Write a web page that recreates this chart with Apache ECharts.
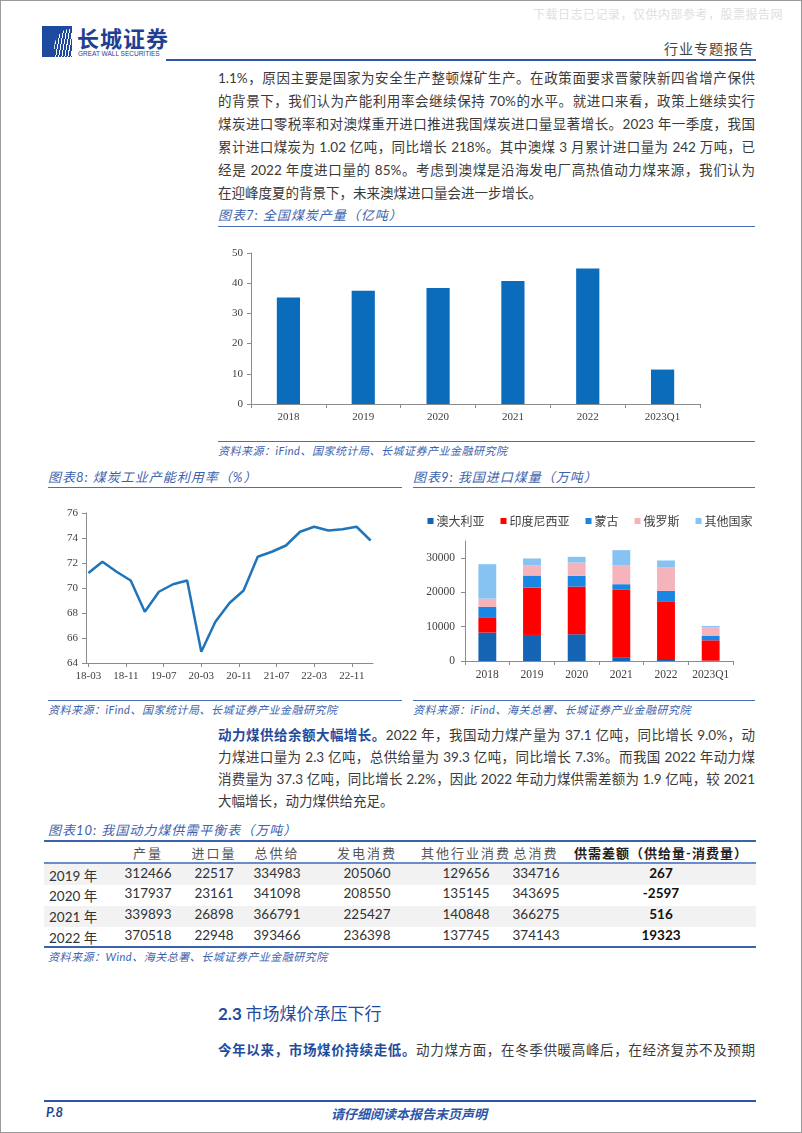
<!DOCTYPE html>
<html>
<head>
<meta charset="utf-8">
<script src="https://cdn.jsdelivr.net/npm/echarts/dist/echarts.min.js"></script>
<style>
  html,body{margin:0;padding:0;background:#fff;}
  body{width:802px;height:1133px;position:relative;overflow:hidden;font-family:"Lato","Noto Sans CJK SC",sans-serif;color:#3a3a3a;}
  .abs{position:absolute;}
  .frame{position:absolute;left:0;top:0;width:800px;height:1131px;border:1px solid #9a9a9a;}
  .line{position:absolute;white-space:nowrap;text-align:justify;text-align-last:justify;font-size:13.5px;height:23px;line-height:23px;}
  .last{text-align:left;text-align-last:left;}
  .ctitle{position:absolute;font-style:italic;color:#3d62ad;font-size:13px;letter-spacing:1px;white-space:nowrap;}
  .rule{position:absolute;height:0;border-top:1.5px solid #4a6fb8;}
  .src{position:absolute;font-style:italic;color:#3d62ad;font-size:11px;white-space:nowrap;letter-spacing:0.5px;}
  .bluebold{color:#1f4c9c;font-weight:bold;}
  .cell{position:absolute;font-size:13.5px;white-space:nowrap;transform:translateX(-50%);color:#333;}
  .hcell{position:absolute;font-size:13px;white-space:nowrap;transform:translateX(-50%);color:#555;letter-spacing:2px;}
  .band{position:absolute;left:44px;width:712px;background:#f2f2f2;}
</style>
</head>
<body>
<div class="frame"></div>

<!-- header -->
<div class="abs" style="left:533px;top:5px;font-size:12px;color:#e0e0e0;font-family:'Noto Sans CJK SC';letter-spacing:0.5px;white-space:nowrap;">下载日志已记录，仅供内部参考，股票报告网</div>
<div class="abs" style="left:42px;top:26px;width:30px;height:31px;background:#1d4a9e;overflow:hidden;">
  <div class="abs" style="left:12px;top:3px;width:26px;height:34px;border-radius:60% 0 0 0;background:repeating-linear-gradient(100deg,#ffffff 0 1px,#1d4a9e 1px 3px);"></div>
</div>
<div class="abs" style="left:77px;top:26px;font-size:22px;line-height:22px;font-weight:bold;color:#1f3f93;letter-spacing:1px;font-family:'Noto Sans CJK SC';white-space:nowrap;">长城证券</div>
<div class="abs" style="left:78px;top:50px;font-size:6.5px;line-height:7px;color:#1f3f93;font-family:'Liberation Sans';white-space:nowrap;">GREAT WALL SECURITIES</div>
<div class="abs" style="left:664px;top:38px;font-size:14px;color:#444;letter-spacing:1px;font-family:'Noto Sans CJK SC';white-space:nowrap;">行业专题报告</div>
<div class="abs" style="left:166px;top:59px;width:590px;height:2px;background:#2d55a8;"></div>

<!-- paragraph 1 -->
<div class="line" style="left:218px;top:67px;width:537px;">1.1%，原因主要是国家为安全生产整顿煤矿生产。在政策面要求晋蒙陕新四省增产保供</div>
<div class="line" style="left:218px;top:90px;width:537px;">的背景下，我们认为产能利用率会继续保持 70%的水平。就进口来看，政策上继续实行</div>
<div class="line" style="left:218px;top:113px;width:537px;">煤炭进口零税率和对澳煤重开进口推进我国煤炭进口量显著增长。2023 年一季度，我国</div>
<div class="line" style="left:218px;top:136px;width:537px;">累计进口煤炭为 1.02 亿吨，同比增长 218%。其中澳煤 3 月累计进口量为 242 万吨，已</div>
<div class="line" style="left:218px;top:159px;width:537px;">经是 2022 年度进口量的 85%。考虑到澳煤是沿海发电厂高热值动力煤来源，我们认为</div>
<div class="line last" style="left:218px;top:182px;width:537px;">在迎峰度夏的背景下，未来澳煤进口量会进一步增长。</div>

<!-- chart 7 -->
<div class="ctitle" style="left:218px;top:205px;">图表7: 全国煤炭产量（亿吨）</div>
<div class="rule" style="left:218px;top:226px;width:537px;"></div>
<div id="c7" class="abs" style="left:210px;top:232px;width:560px;height:200px;"></div>
<div class="rule" style="left:218px;top:441px;width:537px;"></div>
<div class="src" style="left:218px;top:442px;">资料来源：iFind、国家统计局、长城证券产业金融研究院</div>

<!-- chart 8 -->
<div class="ctitle" style="left:48px;top:467px;">图表8: 煤炭工业产能利用率（%）</div>
<div class="rule" style="left:48px;top:487px;width:354px;"></div>
<div id="c8" class="abs" style="left:40px;top:495px;width:370px;height:200px;"></div>
<div class="rule" style="left:48px;top:700px;width:354px;"></div>
<div class="src" style="left:48px;top:701px;">资料来源：iFind、国家统计局、长城证券产业金融研究院</div>

<!-- chart 9 -->
<div class="ctitle" style="left:413px;top:467px;">图表9: 我国进口煤量（万吨）</div>
<div class="rule" style="left:413px;top:487px;width:342px;"></div>
<div id="c9" class="abs" style="left:405px;top:495px;width:370px;height:200px;"></div>
<div class="rule" style="left:413px;top:700px;width:342px;"></div>
<div class="src" style="left:413px;top:701px;">资料来源：iFind、海关总署、长城证券产业金融研究院</div>

<!-- paragraph 2 -->
<div class="line" style="left:218px;top:724px;width:537px;"><span class="bluebold">动力煤供给余额大幅增长。</span>2022 年，我国动力煤产量为 37.1 亿吨，同比增长 9.0%，动</div>
<div class="line" style="left:218px;top:746px;width:537px;">力煤进口量为 2.3 亿吨，总供给量为 39.3 亿吨，同比增长 7.3%。而我国 2022 年动力煤</div>
<div class="line" style="left:218px;top:768px;width:537px;">消费量为 37.3 亿吨，同比增长 2.2%，因此 2022 年动力煤供需差额为 1.9 亿吨，较 2021</div>
<div class="line last" style="left:218px;top:790px;width:537px;">大幅增长，动力煤供给充足。</div>

<!-- table 10 -->
<div class="ctitle" style="left:48px;top:820px;">图表10: 我国动力煤供需平衡表（万吨）</div>
<div id="tbl"></div>

<!-- section 2.3 -->
<div class="abs" style="left:218px;top:1000px;font-size:17px;color:#1f4c9c;white-space:nowrap;font-family:'Noto Sans CJK SC';"><b style="font-family:Lato;">2.3</b>&nbsp;市场煤价承压下行</div>
<div class="line" style="left:218px;top:1039px;width:537px;"><span class="bluebold">今年以来，市场煤价持续走低。</span>动力煤方面，在冬季供暖高峰后，在经济复苏不及预期</div>

<!-- footer -->
<div class="abs" style="left:44px;top:1100px;width:712px;height:2px;background:#2d55a8;"></div>
<div class="abs" style="left:46px;top:1104px;font-size:13px;font-weight:bold;font-style:italic;color:#1f3f93;">P.8</div>
<div class="abs" style="left:331px;top:1104px;font-size:13px;font-weight:bold;font-style:italic;color:#2d55a8;font-family:'Noto Sans CJK SC';white-space:nowrap;">请仔细阅读本报告末页声明</div>

<script>
// ---------- data ----------
const prodYears = ['2018','2019','2020','2021','2022','2023Q1'];
const prodValues = [35.3, 37.5, 38.4, 40.7, 44.9, 11.4];

const utilQuarters = ['2018-03','2018-06','2018-09','2018-12','2019-03','2019-06','2019-09','2019-12',
  '2020-03','2020-06','2020-09','2020-12','2021-03','2021-06','2021-09','2021-12',
  '2022-03','2022-06','2022-09','2022-12','2023-03'];
const utilValues = [71.2, 72.1, 71.3, 70.6, 68.1, 69.7, 70.3, 70.6,
  64.9, 67.3, 68.8, 69.8, 72.5, 72.9, 73.4, 74.5,
  74.9, 74.6, 74.7, 74.9, 73.8];

const importYears = ['2018','2019','2020','2021','2022','2023Q1'];
const impAustralia = [8300, 7600, 7800, 970, 300, 100];
const impIndonesia = [4260, 13820, 13910, 19770, 16930, 5940];
const impMongolia = [3210, 3510, 3120, 1660, 3220, 1260];
const impRussia = [2430, 3020, 3890, 5450, 6810, 2530];
const impOther = [10040, 1950, 1660, 4480, 2050, 390];

const tblHeaders = ['产量','进口量','总供给','发电消费','其他行业消费','总消费','供需差额（供给量-消费量）'];
const tblYears = ['2019 年','2020 年','2021 年','2022 年'];
const tblProduction = [312466, 317937, 339893, 370518];
const tblImport = [22517, 23161, 26898, 22948];
const tblSupply = [334983, 341098, 366791, 393466];
const tblPower = [205060, 208550, 225427, 236398];
const tblOther = [129656, 135145, 140848, 137745];
const tblConsume = [334716, 343695, 366275, 374143];
const tblGap = [267, -2597, 516, 19323];

// ---------- table ----------
(function(){
  const t = document.getElementById('tbl');
  let h = '';
  h += '<div class="abs" style="left:44px;top:840px;width:712px;height:2px;background:#3d62ad;"></div>';
  h += '<div class="abs" style="left:44px;top:862px;width:712px;height:1.5px;background:#6b8cc9;"></div>';
  h += '<div class="band" style="top:864px;height:21px;"></div>';
  h += '<div class="band" style="top:906px;height:21px;"></div>';
  h += '<div class="abs" style="left:44px;top:946px;width:712px;height:2px;background:#3d62ad;"></div>';
  const cx = [148, 214, 277, 367, 466, 536, 661];
  tblHeaders.forEach((s,i)=>{
    const bold = i===6;
    h += '<div class="hcell" style="left:'+cx[i]+'px;top:843px;'+(bold?'font-weight:bold;color:#222;letter-spacing:1px;':'')+'">'+s+'</div>';
  });
  const cols = [tblProduction, tblImport, tblSupply, tblPower, tblOther, tblConsume, tblGap];
  const rowTop = [865, 885, 906, 927];
  tblYears.forEach((y,r)=>{
    h += '<div class="abs" style="left:49px;top:'+rowTop[r]+'px;font-size:13.5px;color:#333;white-space:nowrap;">'+y+'</div>';
    cols.forEach((c,i)=>{
      h += '<div class="cell" style="left:'+cx[i]+'px;top:'+rowTop[r]+'px;'+(i===6?'font-weight:bold;color:#111;':'')+'">'+c[r]+'</div>';
    });
  });
  h += '<div class="src" style="left:48px;top:948px;">资料来源：Wind、海关总署、长城证券产业金融研究院</div>';
  t.innerHTML = h;
})();

const axisFont = {fontFamily:'Liberation Serif', fontSize:11, color:'#404040'};
const axisLineStyle = {show:true, lineStyle:{color:'#8c8c8c', width:1}};

// ---------- chart 7 ----------
const c7 = echarts.init(document.getElementById('c7'));
c7.setOption({
  animation:false,
  grid:{left:41, top:21, width:449, height:151},
  xAxis:{type:'category', data:prodYears, boundaryGap:true,
    axisLine:axisLineStyle, axisTick:{show:true, length:4, lineStyle:{color:'#8c8c8c'}},
    axisLabel:Object.assign({margin:8, interval:0}, axisFont)},
  yAxis:{type:'value', min:0, max:50, interval:10,
    axisLine:axisLineStyle, axisTick:{show:true, length:4, lineStyle:{color:'#8c8c8c'}},
    splitLine:{show:false}, axisLabel:Object.assign({margin:8}, axisFont)},
  series:[{type:'bar', data:prodValues, barWidth:'31%', itemStyle:{color:'#0b6cbb'}}]
});

// ---------- chart 8 ----------
const monthCats = [];
for (let y=2018; y<=2023; y++) for (let m=1; m<=12; m++) {
  const k = y+'-'+(m<10?'0'+m:m);
  if (k>='2018-03' && k<='2023-03') monthCats.push(k);
}
const lineData = monthCats.map(k=>{ const i = utilQuarters.indexOf(k); return i>=0 ? utilValues[i] : null; });
const c8 = echarts.init(document.getElementById('c8'));
c8.setOption({
  animation:false,
  grid:{left:46, top:18, width:287, height:150},
  xAxis:{type:'category', data:monthCats, boundaryGap:true,
    axisLine:axisLineStyle,
    axisTick:{show:true, alignWithLabel:true, interval:7, length:4, lineStyle:{color:'#8c8c8c'}},
    axisLabel:Object.assign({interval:7, margin:8, formatter:v=>v.slice(2)}, axisFont)},
  yAxis:{type:'value', min:64, max:76, interval:2,
    axisLine:axisLineStyle, axisTick:{show:true, length:4, lineStyle:{color:'#8c8c8c'}},
    splitLine:{show:false}, axisLabel:Object.assign({margin:8}, axisFont)},
  series:[{type:'line', data:lineData, connectNulls:true, showSymbol:false, symbol:'none',
    lineStyle:{color:'#1f74ba', width:2.5}}]
});

// ---------- chart 9 ----------
const c9 = echarts.init(document.getElementById('c9'));
const mk = (name, data, color) => ({name, type:'bar', stack:'imp', data, barWidth:'40%', itemStyle:{color}});
c9.setOption({
  animation:false,
  legend:{top:15, left:'center', itemWidth:6, itemHeight:6, itemGap:16, icon:'rect',
    textStyle:{fontFamily:'Noto Sans CJK SC', fontSize:12, color:'#404040', padding:[0,0,0,-2]}},
  grid:{left:60, top:46, width:268, height:120},
  xAxis:{type:'category', data:importYears, boundaryGap:true,
    axisLine:axisLineStyle, axisTick:{show:true, length:4, lineStyle:{color:'#8c8c8c'}},
    axisLabel:Object.assign({margin:8, interval:0}, axisFont, {fontSize:11.5})},
  yAxis:{type:'value', min:0, max:35000, interval:10000,
    axisLine:axisLineStyle, axisTick:{show:true, length:4, lineStyle:{color:'#8c8c8c'}},
    splitLine:{show:false}, axisLabel:Object.assign({margin:10, showMaxLabel:false, formatter:v=>String(v)}, axisFont, {fontSize:11.5})},
  series:[
    mk('澳大利亚', impAustralia, '#1563b3'),
    mk('印度尼西亚', impIndonesia, '#ff0000'),
    mk('蒙古', impMongolia, '#1a86e4'),
    mk('俄罗斯', impRussia, '#f5b3bb'),
    mk('其他国家', impOther, '#86c2f2')
  ]
});
</script>
</body>
</html>
